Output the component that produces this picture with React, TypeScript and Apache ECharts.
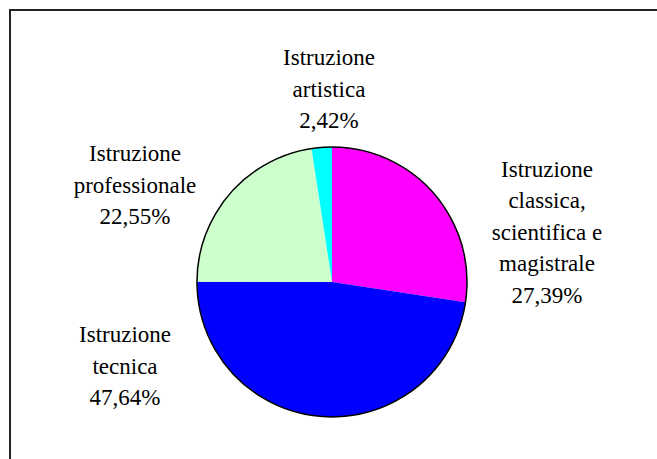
import React, { useEffect, useRef } from "react";
import * as echarts from "echarts";

const categories = [
  "Istruzione\nclassica,\nscientifica e\nmagistrale",
  "Istruzione\ntecnica",
  "Istruzione\nprofessionale",
  "Istruzione\nartistica",
];
const values = [27.39, 47.64, 22.55, 2.42];
const colors = ["#FF00FF", "#0000FF", "#CCFFCC", "#00FFFF"];
const labelPositions = [
  [547, 232],
  [125, 366],
  [135, 185],
  [329, 89],
];

const FONT = "Liberation Serif";
const LINE = 31.5;

export default function App() {
  const ref = useRef<HTMLDivElement>(null);
  useEffect(() => {
    if (!ref.current) return;
    const chart = echarts.init(ref.current, null, { renderer: "svg" });
    const labelTexts: any[] = [];
    categories.forEach((c, i) => {
      const lines = (c + "\n" + values[i].toFixed(2).replace(".", ",") + "%").split("\n");
      lines.forEach((line, k) => {
        labelTexts.push({
          type: "text",
          x: labelPositions[i][0],
          y: labelPositions[i][1] + (k - (lines.length - 1) / 2) * LINE,
          silent: true,
          style: {
            text: line,
            font: "23px 'Liberation Serif', serif",
            fontFamily: FONT,
            fontSize: 23,
            fill: "#000000",
            align: "center",
            verticalAlign: "middle",
          },
        });
      });
    });
    chart.setOption({
      animation: false,
      backgroundColor: "#ffffff",
      textStyle: { fontFamily: FONT },
      graphic: [
        {
          type: "rect",
          shape: { x: 10, y: 10, width: 700, height: 500 },
          style: { fill: "none", stroke: "#222222", lineWidth: 2 },
          silent: true,
        },
        ...labelTexts,
      ],
      series: [
        {
          type: "pie",
          center: [332, 282],
          radius: [0, 135],
          startAngle: 90,
          clockwise: true,
          itemStyle: { borderWidth: 0 },
          label: { show: false },
          labelLine: { show: false },
          data: categories.map((c, i) => ({
            name: c,
            value: values[i],
            itemStyle: { color: colors[i] },
          })),
        },
        {
          type: "pie",
          center: [332, 282],
          radius: [0, 135],
          silent: true,
          label: { show: false },
          labelLine: { show: false },
          itemStyle: { color: "transparent", borderColor: "#000000", borderWidth: 1.5 },
          data: [{ value: 1, name: "" }],
        },
      ],
    });
    return () => chart.dispose();
  }, []);
  return (
    <div
      ref={ref}
      style={{ position: "fixed", left: 0, top: 0, width: 657, height: 459 }}
    />
  );
}
